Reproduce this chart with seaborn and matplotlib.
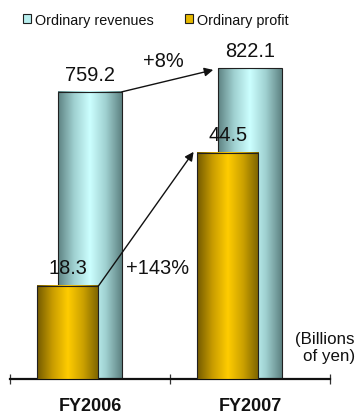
import numpy as np
import matplotlib
matplotlib.use("Agg")
import matplotlib.pyplot as plt
from matplotlib.colors import LinearSegmentedColormap
from matplotlib.patches import Patch
import seaborn as sns

# Data (billions of yen)
fiscal_years = ["FY2006", "FY2007"]
ordinary_revenues = [759.2, 822.1]
ordinary_profit = [18.3, 44.5]
revenue_growth = "+8%"
profit_growth = "+143%"
series_names = ["Ordinary revenues", "Ordinary profit"]

sns.set_theme(style="white")
plt.rcParams["font.family"] = ["Liberation Sans", "DejaVu Sans"]

W, H, DPI = 356, 414, 100
fig = plt.figure(figsize=(W / DPI, H / DPI), dpi=DPI)

# axes: baseline at y=380 px, spanning x=10..330 px
ax = fig.add_axes([10 / W, (H - 380) / H, 320 / W, 340 / H])
ax2 = ax.twinx()

REV_TOP = 898.8
PROF_TOP = 66.9

cyan_map = LinearSegmentedColormap.from_list(
    "cyl_cyan", ["#5e8282", "#9fd0d0", "#ccffff", "#9fd0d0", "#5e8282"])
gold_map = LinearSegmentedColormap.from_list(
    "cyl_gold", ["#735a00", "#c89c00", "#ffcc00", "#caa000", "#7a6200"])

sns.barplot(x=fiscal_years, y=ordinary_revenues, ax=ax, width=0.4,
            color="#ccffff", edgecolor="#202020", linewidth=0.8, errorbar=None)
sns.barplot(x=fiscal_years, y=ordinary_profit, ax=ax2, width=0.385,
            color="#ffcc00", edgecolor="#202020", linewidth=0.8, errorbar=None)

# profit bars sit in front, shifted left of the revenue bars
for p in ax2.patches:
    p.set_x(p.get_x() - 0.14)


def shade(axis, patch, cmap):
    x0, y0 = patch.get_x(), patch.get_y()
    w, h = patch.get_width(), patch.get_height()
    grad = np.linspace(0, 1, 256).reshape(1, -1)
    axis.imshow(grad, extent=(x0, x0 + w, y0, y0 + h), aspect="auto",
                cmap=cmap, origin="lower", zorder=0.5, interpolation="bilinear")
    patch.set_facecolor("none")
    patch.set_zorder(1)


rev_bars = list(ax.patches)
prof_bars = list(ax2.patches)
for p in rev_bars:
    shade(ax, p, cyan_map)
for p in prof_bars:
    shade(ax2, p, gold_map)

# value labels
for p, v in zip(rev_bars, ordinary_revenues):
    ax.annotate(f"{v:.1f}", (p.get_x() + p.get_width() / 2, v),
                xytext=(0, 12.5), textcoords="offset points",
                ha="center", va="center", fontsize=14.4, color="#111111")
for p, v in zip(prof_bars, ordinary_profit):
    ax2.annotate(f"{v:.1f}", (p.get_x() + p.get_width() / 2, v),
                 xytext=(0, 13), textcoords="offset points",
                 ha="center", va="center", fontsize=14.4, color="#111111", zorder=5)

# growth arrows
r0, r1 = rev_bars
ax.annotate("", xy=(r1.get_x() - 0.03, ordinary_revenues[1] - 5),
            xytext=(r0.get_x() + r0.get_width(), ordinary_revenues[0]),
            arrowprops=dict(arrowstyle="-|>", color="#111111", lw=1,
                            mutation_scale=13, shrinkA=0, shrinkB=0))
ax.text(0.456, 841, revenue_growth, ha="center", va="center",
        fontsize=14.4, color="#111111")

p0, p1 = prof_bars
ax2.annotate("", xy=(p1.get_x() - 0.02, ordinary_profit[1] + 0.2),
             xytext=(p0.get_x() + p0.get_width(), ordinary_profit[0]),
             arrowprops=dict(arrowstyle="-|>", color="#111111", lw=1,
                             mutation_scale=13, shrinkA=0, shrinkB=0),
             zorder=4)
ax2.text(0.42, 22.0, profit_growth, ha="center", va="center",
         fontsize=14.4, color="#111111", zorder=5)

# axes cosmetics
for a in (ax, ax2):
    a.set_xlim(-0.5, 1.5)
    a.set_xlabel("")
    a.set_ylabel("")
    a.set_yticks([])
    for s in ("top", "left", "right"):
        a.spines[s].set_visible(False)
    a.spines["bottom"].set_visible(False)
ax.set_ylim(0, REV_TOP)
ax2.set_ylim(0, PROF_TOP)

ax.spines["bottom"].set_visible(True)
ax.spines["bottom"].set_linewidth(1.6)
ax.spines["bottom"].set_color("#111111")
ax.spines["bottom"].set_zorder(6)
ax.set_xticks([-0.5, 0.5, 1.5])
ax.set_xticklabels(["", "", ""])
ax.tick_params(axis="x", which="major", direction="inout", length=7.2,
               width=0.9, color="#333333", bottom=True)
ax.set_xticks([0, 1], minor=True)
ax.set_xticklabels(fiscal_years, minor=True, fontsize=13, fontweight="bold",
                   color="#111111")
ax.tick_params(axis="x", which="minor", length=0, pad=13.2)
ax2.tick_params(axis="x", which="both", bottom=False, labelbottom=False)

fig.text(355 / W, 1 - 348 / H, "(Billions\nof yen)", ha="right", va="center",
         fontsize=12.2, color="#111111", linespacing=1.15)

handles = [Patch(facecolor="#b8eeee", edgecolor="#202020", linewidth=0.8),
           Patch(facecolor="#e6b800", edgecolor="#202020", linewidth=0.8)]
fig.legend(handles, series_names, loc="upper left",
           bbox_to_anchor=(23 / W, 1 - 13.5 / H), ncol=2, frameon=False,
           fontsize=10.4, handlelength=0.55, handleheight=0.55,
           handletextpad=0.25, columnspacing=2.2, borderpad=0,
           borderaxespad=0, labelcolor="#111111")

fig.savefig("out.png", dpi=DPI, facecolor="white")
